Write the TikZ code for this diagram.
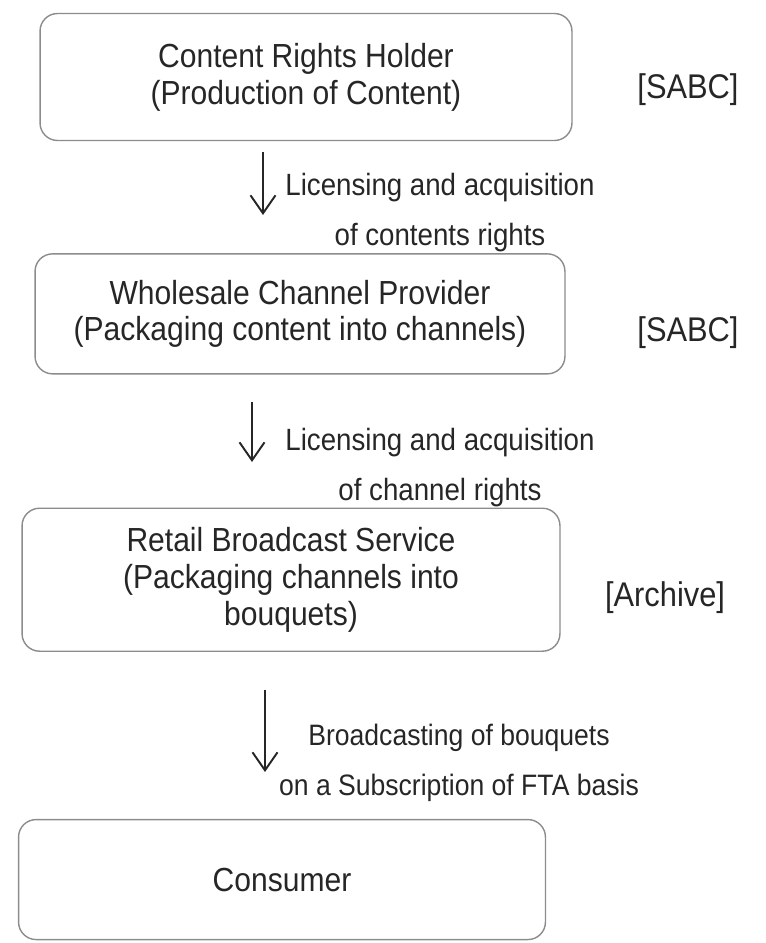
\documentclass[tikz,border=0pt]{standalone}
\usepackage{fontspec}
\setmainfont{Liberation Sans}[FakeStretch=0.9]
\usetikzlibrary{positioning,arrows.meta}

\begin{document}
\begin{tikzpicture}[
    x=0.02cm,
    y=-0.02cm,
    box/.style={
        rectangle,
        draw=black!45,
        line width=0.8pt,
        rounded corners=0.35cm,
        align=center,
        text=black!85,
        font=\fontsize{19}{21}\selectfont
      },
    tag/.style={text=black!85,font=\fontsize{19.5}{22}\selectfont},
    note/.style={align=center,text=black!85,font=\fontsize{17.5}{28.5}\selectfont},
    arrow/.style={-{Straight Barb[length=3.6mm,width=5mm]},line width=1.1pt,black!85}
    ]
    \useasboundingbox (0,0) rectangle (765,943);

    \node[box,minimum width=10.64cm,minimum height=2.54cm] (holder) at (306,77) {Content Rights Holder\\(Production of Content)};
    \node[box,minimum width=10.6cm,minimum height=2.4cm,below=2.24cm of holder,xshift=-0.12cm] (wholesale) {Wholesale Channel Provider\\(Packaging content into channels)};
    \node[box,minimum width=10.76cm,minimum height=2.86cm,below=2.66cm of wholesale,xshift=-0.18cm] (retail) {Retail Broadcast Service\\(Packaging channels into\\bouquets)};
    \node[box,minimum width=10.54cm,minimum height=2.4cm,below=3.34cm of retail,xshift=-0.18cm] (consumer) {Consumer};

    \node[tag] (tag1) at (688,90) {[SABC]};
    \node[tag] (tag2) at (688,333) {[SABC]};
    \node[tag] (tag3) at (665,598) {[Archive]};

    \coordinate (a1s) at (263,152);
    \coordinate (a1e) at (263,215);
    \coordinate (a2s) at (252,402);
    \coordinate (a2e) at (252,462);
    \coordinate (a3s) at (265,690);
    \coordinate (a3e) at (265,772);

    \draw[arrow] (a1s)--(a1e);
    \draw[arrow] (a2s)--(a2e);
    \draw[arrow] (a3s)--(a3e);

    \node[note] (note1) at (440,213) {Licensing and acquisition\\of contents rights};
    \node[note] (note2) at (440,468) {Licensing and acquisition\\of channel rights};
    \node[note,font=\fontsize{16.8}{28.5}\selectfont] (note3) at (459,763) {Broadcasting of bouquets\\on a Subscription of FTA basis};

  \end{tikzpicture}
\end{document}
